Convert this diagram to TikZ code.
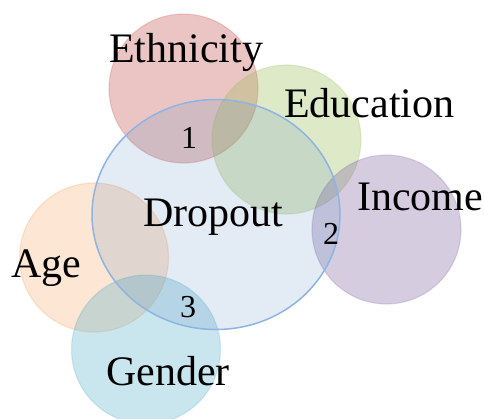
\documentclass[tikz,border=0pt]{standalone}
\usepackage{fontspec}
\setmainfont{Liberation Serif}
\usepackage{tikz}

\definecolor{ethred}{HTML}{C0504D}
\definecolor{edugreen}{HTML}{9BBB59}
\definecolor{incpurple}{HTML}{8064A2}
\definecolor{ageorange}{HTML}{F79646}
\definecolor{gencyan}{HTML}{4BACC6}
\definecolor{dropblue}{HTML}{4F81BD}
\definecolor{dropline}{HTML}{8DB4E2}

\begin{document}
\begin{tikzpicture}[x=1pt,y=-1pt,
  factor/.style={fill=#1,fill opacity=0.33,draw=#1,draw opacity=0.22,line width=1.2pt},
  label/.style={anchor=base west,inner sep=0pt,font=\fontsize{42}{42}\selectfont},
  count/.style={anchor=base west,inner sep=0pt,font=\fontsize{32}{32}\selectfont}]
\useasboundingbox (0,0) rectangle (484,418);
\newcommand{\rad}{74.5}

% the five factors
\draw[factor=ethred] (183.5,88.5) circle (\rad);
\draw[factor=edugreen] (286.5,139.5) circle (\rad);
\draw[factor=incpurple] (386.5,229.5) circle (\rad);
\draw[factor=ageorange,fill opacity=0.24] (94,257.5) circle (\rad);
\draw[factor=gencyan,fill opacity=0.3] (146,349.5) circle (\rad);

% dropout on top
\draw[fill=dropblue,fill opacity=0.16,draw=dropline,line width=1.5pt]
  (216,214.5) ellipse (124 and 115);

\node[label] (ethnicity) at (109,62) {Ethnicity};
\node[label] (education) at (284,117) {Education};
\node[label] (income) at (357,210) {Income};
\node[label] (dropout) at (143,226) {Dropout};
\node[label] (age) at (11,277) {Age};
\node[label] (gender) at (106,385) {Gender};

\node[count] (one) at (181,148) {1};
\node[count] (two) at (323,244) {2};
\node[count] (three) at (180,317) {3};
\end{tikzpicture}
\end{document}
